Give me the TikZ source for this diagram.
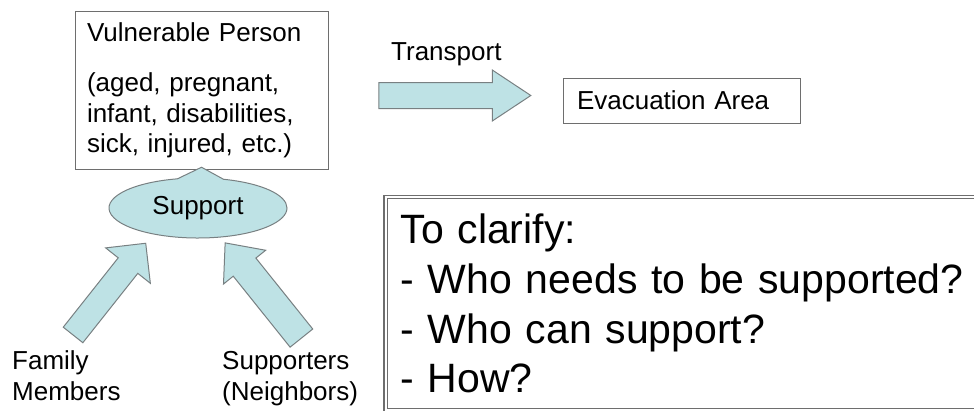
\documentclass[tikz,border=0pt]{standalone}
\usepackage{fontspec}
\setmainfont{Liberation Sans}
\usetikzlibrary{positioning, calc, shapes.arrows, shapes.callouts}
\definecolor{blockfill}{RGB}{190,226,229}
\definecolor{blockline}{RGB}{120,128,130}
\definecolor{boxline}{RGB}{110,110,110}
\tikzset{smalltext/.style={font=\fontsize{26}{30.5}\selectfont}}
\tikzset{bigtext/.style={font=\fontsize{41}{49.7}\selectfont}}
\tikzset{plainbox/.style={draw=boxline, line width=1pt, align=left}}
\tikzset{blockarrow/.style={single arrow, draw=blockline, fill=blockfill, line width=1pt, inner xsep=0pt, single arrow head indent=0pt}}
\tikzset{caption/.style={smalltext, inner sep=0pt, align=left}}

\begin{document}
\begin{tikzpicture}[x=1pt, y=-1pt]
      \useasboundingbox (0,0) rectangle (974,410);

      \node[plainbox, smalltext, text width=229, inner xsep=12, inner ysep=11.5, anchor=north] (vp) at (201.5,11)
        {Vulnerable Person\\[19.5pt](aged, pregnant,\\infant, disabilities,\\sick, injured, etc.)};
      \node[plainbox, smalltext, text width=209, minimum height=45, inner xsep=14] (ea) at (681.5,100.5) {Evacuation Area};

      \node[blockarrow, minimum height=152, inner ysep=12.5, single arrow head extend=12.5, single arrow tip angle=67] (tr) at (445,95.5) {};
      \node[caption, anchor=base west] (trl) at (391,60.5) {Transport};

      \node[ellipse callout, draw=blockline, fill=blockfill, line width=1pt, inner sep=0pt, minimum width=178, minimum height=60,
        callout absolute pointer={($(vp.south)+(0,-3)$)}, callout pointer arc=30, smalltext] (sp) at (198,208) {Support};

      \node[blockarrow, minimum height=117, inner ysep=12, single arrow head extend=16, single arrow tip angle=90, rotate=51.6] (fa) at (105.5,294) {};
      \node[blockarrow, minimum height=122, inner ysep=14, single arrow head extend=12.5, single arrow tip angle=82, rotate=128.7] (na) at (268.5,297) {};

      \node[caption, anchor=base west] (fm) at (12,400) {Family\\Members};
      \node[caption, anchor=base west] (nb) at (222,400) {Supporters\\(Neighbors)};

      % question box runs off the page on the right and bottom
      \node[draw=boxline, line width=1.2pt, double=white, double distance=2pt, bigtext, align=left, anchor=north west,
        text width=620, inner xsep=15, inner ysep=17] (cl) at (385,196.5)
        {To clarify:\\- Who needs to be supported?\\- Who can support?\\- How?};
\end{tikzpicture}
\end{document}
